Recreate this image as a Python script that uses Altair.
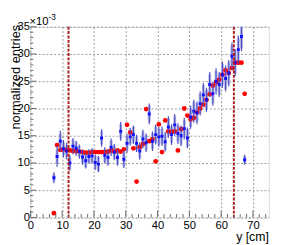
import altair as alt
import pandas as pd

# bin centres (1 cm bins)
bin_x = [7.4 + i for i in range(61)]

red_vals = [0.8, 13.3, 12.4, 12.5, 12.4, 12.3, 12.2, 12.2, 12.1, 12.0,
            11.9, 11.9, 12.0, 12.0, 12.0, 12.0, 12.0, 12.1, 12.3, 12.1,
            12.3, 12.1, 12.5, 17.0, 15.6, 12.7, 6.6, 12.9, 13.5, 19.9,
            14.0, 14.4, 10.3, 17.1, 12.0, 17.8, 15.8, 15.7, 15.8, 12.3,
            16.2, 20.0, 18.7, 18.0, 18.3, 19.3, 20.0, 20.7, 21.6, 22.6,
            24.2, 24.8, 25.3, 26.2, 27.0, 26.5, 27.4, 28.4, 28.4, 28.4,
            22.7]

blue_vals = [7.3, 11.2, 14.0, 12.6, 12.2, 10.0, 13.1, 12.7, 12.1, 11.1,
             10.4, 11.2, 11.3, 10.1, 9.8, 14.6, 11.4, 11.0, 12.9, 12.0,
             11.0, 15.8, 10.7, 13.6, 14.8, 15.2, 13.6, 12.2, 14.4, 13.7,
             19.0, 14.0, 15.2, 14.8, 14.9, 13.9, 16.6, 15.2, 17.0, 15.4,
             15.0, 16.3, 14.6, 18.4, 19.5, 19.2, 20.9, 22.5, 21.6, 24.4,
             22.7, 25.0, 24.4, 26.2, 25.5, 26.5, 29.6, 28.4, 30.8, 33.2,
             10.6]

blue_err = [1.0, 1.9, 1.9, 1.6, 1.5, 1.4, 1.5, 1.4, 1.3, 1.4,
            1.4, 1.3, 1.4, 1.4, 1.5, 1.6, 1.5, 1.5, 1.6, 1.5,
            1.5, 1.7, 1.6, 1.7, 1.6, 1.7, 1.6, 1.6, 1.7, 1.7,
            1.9, 1.8, 1.8, 1.8, 1.8, 1.8, 2.0, 1.9, 2.0, 1.9,
            1.9, 2.0, 1.9, 2.1, 2.1, 2.1, 2.2, 2.2, 2.2, 2.3,
            2.2, 2.4, 2.3, 2.4, 2.4, 2.4, 2.5, 2.5, 2.6, 2.7,
            0.9]

blue_sys = [0.7, 1.3, 1.3, 1.2, 1.1, 1.1, 1.2, 1.1, 1.0, 1.2,
            1.2, 1.1, 1.2, 1.2, 1.3, 1.2, 1.2, 1.3, 1.2, 1.2,
            1.3, 1.3, 1.3, 1.3, 1.3, 1.4, 1.3, 1.3, 1.4, 1.4,
            1.5, 1.4, 1.5, 1.5, 1.4, 1.5, 1.6, 1.5, 1.6, 1.5,
            1.6, 1.6, 1.6, 1.7, 1.7, 1.7, 1.8, 1.8, 1.8, 1.9,
            1.8, 1.9, 1.9, 2.0, 2.0, 2.0, 2.0, 2.1, 2.1, 2.2,
            0.7]

cut_lines = [12, 64]

x_major = [0, 10, 20, 30, 40, 50, 60, 70]
x_minor = [v for v in range(0, 75, 2) if v % 10 != 0]
y_major = [0, 5, 10, 15, 20, 25, 30, 35]
y_minor = [v for v in range(0, 36) if v % 5 != 0]

y_title = "normalized entries"
x_title = "y [cm]"

df = pd.DataFrame({"x": bin_x, "red": red_vals, "blue": blue_vals,
                   "err": blue_err, "sys": blue_sys})
df["lo"] = df["blue"] - df["err"]
df["hi"] = df["blue"] + df["err"]
df["slo"] = df["blue"] - df["sys"]
df["shi"] = df["blue"] + df["sys"]

W, H = 245, 196
xs = alt.Scale(domain=[0, 75], nice=False, zero=False)
ys = alt.Scale(domain=[0, 35], nice=False, zero=False)

base = alt.Chart(df)

xaxis = alt.Axis(values=x_major, grid=True, gridDash=[2, 2], gridColor="#9a9a9a",
                 gridWidth=1, ticks=False, domain=False, labelFontSize=11.5,
                 labelColor="black", labelPadding=2, labelOverlap=False,
                 labelFlush=False, title=None)
yaxis = alt.Axis(values=y_major, grid=True, gridDash=[2, 2], gridColor="#9a9a9a",
                 gridWidth=1, ticks=False, domain=False, labelFontSize=11.5,
                 labelColor="black", labelPadding=1, labelOverlap=False,
                 labelFlush=False, title=None)

XA = lambda f: alt.X(f, scale=xs, axis=xaxis)
YA = lambda f: alt.Y(f, scale=ys, axis=yaxis)

sys_boxes = base.mark_rule(color="#b4b8e6", strokeWidth=3, strokeCap="butt", clip=True).encode(
    x=XA("x:Q"), y=YA("slo:Q"), y2="shi:Q")

red_pts = base.mark_circle(color="#ff0000", size=24, opacity=1, clip=True).encode(
    x=XA("x:Q"), y=YA("red:Q"))

err_bars = base.mark_rule(color="#4f4fc4", strokeWidth=1.2, clip=True).encode(
    x=XA("x:Q"), y=YA("lo:Q"), y2="hi:Q")

blue_pts = base.mark_square(color="#1010ff", size=9, opacity=1, clip=True).encode(
    x=XA("x:Q"), y=YA("blue:Q"))

cuts = alt.Chart(pd.DataFrame({"c": cut_lines})).mark_rule(
    color="#b01818", strokeWidth=2, strokeDash=[3, 1.5]).encode(x=XA("c:Q"))

tick_col = "#666666"
xmaj = alt.Chart(pd.DataFrame({"t": x_major})).mark_rule(color=tick_col).encode(
    x=XA("t:Q"), y=alt.value(H), y2=alt.value(H - 7))
xmin = alt.Chart(pd.DataFrame({"t": x_minor})).mark_rule(color=tick_col).encode(
    x=XA("t:Q"), y=alt.value(H), y2=alt.value(H - 3.5))
ymaj = alt.Chart(pd.DataFrame({"t": y_major})).mark_rule(color=tick_col).encode(
    y=YA("t:Q"), x=alt.value(0), x2=alt.value(6))
ymin = alt.Chart(pd.DataFrame({"t": y_minor})).mark_rule(color=tick_col).encode(
    y=YA("t:Q"), x=alt.value(0), x2=alt.value(3))

corner_df = pd.DataFrame({"ex": [0], "ey": [35], "rx": [75], "by": [0]})
exp_base = alt.Chart(corner_df).mark_text(
    text="×10", align="left", baseline="alphabetic", fontSize=11.5, dx=-1, dy=-2,
    color="black").encode(x=XA("ex:Q"), y=YA("ey:Q"))
exp_pow = alt.Chart(corner_df).mark_text(
    text="-3", align="left", baseline="alphabetic", fontSize=8.5, dx=18.5, dy=-7,
    color="black").encode(x=XA("ex:Q"), y=YA("ey:Q"))

# axis titles (ROOT style: aligned to the axis end)
ytitle = alt.Chart(corner_df).mark_text(
    text=y_title, angle=270, align="right", baseline="alphabetic",
    fontSize=13.2, dx=2, dy=-11, color="black").encode(
    x=XA("ex:Q"), y=YA("ey:Q"))
xtitle = alt.Chart(corner_df).mark_text(
    text=x_title, align="right", baseline="alphabetic",
    fontSize=12.6, dx=0, dy=24, color="black").encode(
    x=XA("rx:Q"), y=YA("by:Q"))

chart = alt.layer(sys_boxes, red_pts, err_bars, blue_pts, cuts,
                  xmaj, xmin, ymaj, ymin, exp_base, exp_pow,
                  ytitle, xtitle).properties(
    width=W, height=H,
    autosize=alt.AutoSizeParams(type="none"),
    padding={"left": 23, "top": 16, "right": 31, "bottom": 25},
    background="white",
).configure_view(stroke="black", strokeWidth=1).configure_axis(
    labelOverlap=False).configure(font="Liberation Sans")

chart.save("out.html", embed_options={"renderer": "svg", "actions": False})
